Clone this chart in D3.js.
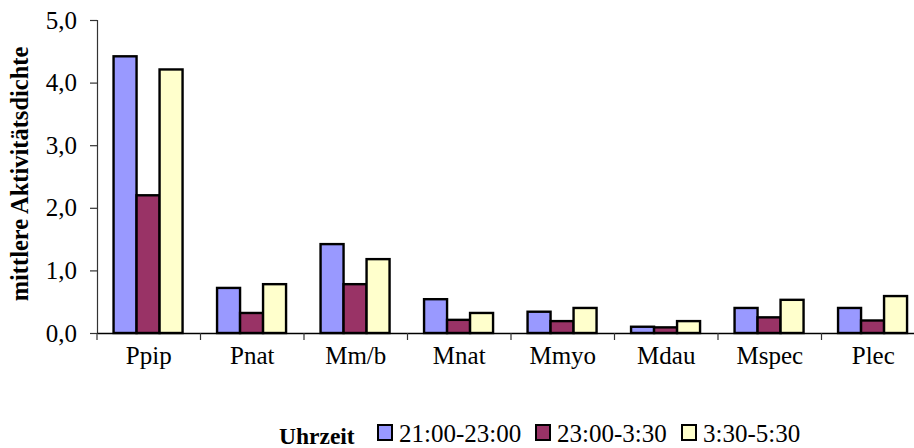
<!DOCTYPE html>
<html><head><meta charset="utf-8">
<script src="https://cdn.jsdelivr.net/npm/d3@7"></script>
<style>body{margin:0;background:#fff}svg{display:block}svg text{font-family:'Liberation Serif','DejaVu Serif',serif !important}</style>
</head><body><svg id="c" width="914" height="448"></svg>
<script>
const categories = ["Ppip","Pnat","Mm/b","Mnat","Mmyo","Mdau","Mspec","Plec"];
const seriesNames = ["21:00-23:00","23:00-3:30","3:30-5:30"];
const s1 = [4.42,0.72,1.42,0.54,0.34,0.10,0.40,0.40];
const s2 = [2.20,0.32,0.78,0.21,0.19,0.09,0.25,0.20];
const s3 = [4.21,0.78,1.18,0.32,0.40,0.19,0.53,0.59];
const colors = ["#9999FF","#993366","#FFFFCC"];
const yTicks = [0,1,2,3,4,5];
const yTitle = "mittlere Aktivitätsdichte";
const legendTitle = "Uhrzeit";

const FONT = "'Liberation Serif','DejaVu Serif',serif";
const svg = d3.select("#c");
const x0 = 97, x1 = 925, yB = 333, yT = 20;
const x = d3.scaleBand().domain(categories).range([x0,x1]).paddingInner(0).paddingOuter(0);
const bw = x.bandwidth()/4.5;
const xs = d3.scaleBand().domain(d3.range(3)).range([0.72*bw, 3.72*bw]);
const y = d3.scaleLinear().domain([0,5]).range([yB,yT]);
const data = [s1,s2,s3];

data.forEach((vals,si)=>{
  svg.append("g").selectAll("rect").data(vals).join("rect")
    .attr("x",(d,i)=>x(categories[i])+xs(si))
    .attr("y",d=>y(d))
    .attr("width",xs.bandwidth())
    .attr("height",d=>yB-y(d))
    .attr("fill",colors[si]).attr("stroke","#000").attr("stroke-width",2.4);
});

const ya = svg.append("g").attr("transform",`translate(${x0},0)`)
  .call(d3.axisLeft(y).tickValues(yTicks).tickSize(7).tickPadding(13)
    .tickFormat(d=>d3.format(".1f")(d).replace(".",",")));
ya.attr("font-family",FONT);
ya.select(".domain").attr("stroke","#333").attr("stroke-width",1.2);
ya.selectAll(".tick line").attr("stroke","#333").attr("stroke-width",1.2);
ya.selectAll("text").attr("font-size",25).attr("fill","#000").style("font-family",FONT);

const xa = svg.append("g").attr("transform",`translate(0,${yB})`)
  .call(d3.axisBottom(x).tickSize(0).tickPadding(13));
xa.attr("font-family",FONT);
xa.select(".domain").attr("stroke","#000").attr("stroke-width",1.5);
xa.selectAll("text").attr("font-size",25).attr("fill","#000").style("font-family",FONT);
svg.append("g").selectAll("line").data(categories).join("line")
  .attr("x1",d=>x(d)).attr("x2",d=>x(d)).attr("y1",yB).attr("y2",yB+7)
  .attr("stroke","#333").attr("stroke-width",1.2);

svg.append("text").attr("transform","translate(28,174) rotate(-90)")
  .attr("text-anchor","middle").attr("font-weight","bold").attr("font-size",24.5)
  .style("font-family",FONT).text(yTitle);

const lg = svg.append("g");
lg.append("text").attr("x",279).attr("y",444).attr("font-weight","bold").attr("font-size",23.5)
  .style("font-family",FONT).text(legendTitle);
const lx = [378,536,682];
seriesNames.forEach((n,i)=>{
  lg.append("rect").attr("x",lx[i]).attr("y",425).attr("width",14).attr("height",15)
    .attr("fill",colors[i]).attr("stroke","#000").attr("stroke-width",2);
  lg.append("text").attr("x",lx[i]+21).attr("y",442).attr("font-size",25)
    .style("font-family",FONT).text(n);
});
</script></body></html>
